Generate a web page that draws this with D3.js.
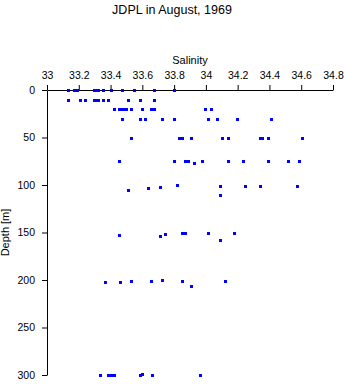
<!DOCTYPE html>
<html>
<head>
<meta charset="utf-8">
<script src="https://cdn.jsdelivr.net/npm/d3@7"></script>
<style>
  body { margin: 0; background: #fff; }
  svg text { font-family: "Liberation Sans", Arial, sans-serif; fill: #000; }
</style>
</head>
<body>
<div id="chart"></div>
<script>
const salinity = [
  33.134, 33.168, 33.180, 33.191, 33.297, 33.310, 33.321, 33.350, 33.403, 33.474, 33.549, 33.675, 33.800,
  33.134, 33.206, 33.241, 33.297, 33.308, 33.319, 33.350, 33.386, 33.511, 33.583, 33.675,
  33.423, 33.455, 33.467, 33.480, 33.495, 33.530, 33.599, 33.654, 33.675, 33.996, 34.033,
  33.474, 33.583, 33.618, 33.725, 33.800, 34.014, 34.069, 34.197, 34.411,
  33.530, 33.832, 33.849, 33.908, 34.103, 34.140, 34.340, 34.354, 34.392, 34.606,
  33.455, 33.800, 33.871, 33.890, 33.926, 33.977, 34.140, 34.235, 34.392, 34.518, 34.587,
  33.511, 33.637, 33.709, 33.816, 34.088, 34.247, 34.340, 34.572, 34.088,
  33.455, 33.709, 33.744, 33.851, 33.870, 34.014, 34.088, 34.178,
  33.367, 33.457, 33.530, 33.656, 33.725, 33.851, 33.908, 34.121,
  33.331, 33.384, 33.403, 33.421, 33.585, 33.596, 33.658, 33.960
];
const depth = [
  0, 0, 0, 0, 0, 0, 0, 0, 0, 0, 0, 0, 0,
  10, 10, 10, 10, 10, 10, 10, 10, 10, 10, 10,
  20, 20, 20, 20, 20, 20, 20, 20, 20, 20, 20,
  30, 30, 30, 30, 30, 30, 30, 30, 30,
  50, 50, 50, 50, 50, 50, 50, 50, 50, 50,
  75, 75, 75, 75, 77, 75, 75, 75, 75, 75, 75,
  105, 103, 102, 100, 101, 101, 101, 101, 111,
  153, 154, 152, 151, 150, 151, 158, 151,
  202, 202, 201, 201, 200, 201, 206, 201,
  300, 300, 300, 300, 300, 299, 300, 300
];

const salTicks = [33, 33.2, 33.4, 33.6, 33.8, 34, 34.2, 34.4, 34.6, 34.8];
const depthTicks = [0, 50, 100, 150, 200, 250, 300];

const W = 346, H = 384;
const margin = { top: 90, right: 13, bottom: 9, left: 47 };

const svg = d3.select("#chart")
  .append("svg")
    .attr("width", W)
    .attr("height", H);

const x = d3.scaleLinear().domain([33, 34.8]).range([margin.left, W - margin.right]);
const y = d3.scaleLinear().domain([0, 300]).range([margin.top, H - margin.bottom]);

// Title
svg.append("text")
  .attr("x", 172)
  .attr("y", 14)
  .attr("text-anchor", "middle")
  .style("font-size", "12.5px")
  .text("JDPL in August, 1969");

// Top axis (salinity)
svg.append("g")
  .attr("transform", `translate(0,${margin.top})`)
  .call(d3.axisTop(x)
    .tickValues(salTicks)
    .tickFormat(d3.format("~g"))
    .tickSize(5)
    .tickSizeOuter(0)
    .tickPadding(6));

// Left axis (depth)
svg.append("g")
  .attr("transform", `translate(${margin.left},0)`)
  .call(d3.axisLeft(y)
    .tickValues(depthTicks)
    .tickSize(5)
    .tickSizeOuter(0)
    .tickPadding(7));

svg.selectAll(".tick text")
  .style("font-family", "'Liberation Sans', Arial, sans-serif")
  .style("font-size", "10.5px")
  .attr("fill", "#000");
svg.selectAll(".domain, .tick line").attr("stroke", "#000");

// Axis labels
svg.append("text")
  .attr("x", (x.range()[0] + x.range()[1]) / 2)
  .attr("y", 64)
  .attr("text-anchor", "middle")
  .style("font-size", "11px")
  .text("Salinity");

svg.append("text")
  .attr("transform", `translate(9,${(y.range()[0] + y.range()[1]) / 2}) rotate(-90)`)
  .attr("text-anchor", "middle")
  .style("font-size", "11px")
  .text("Depth [m]");

// Points
const pts = salinity.map((s, i) => ({ s: s, d: depth[i] }));
svg.append("g")
  .selectAll("rect")
  .data(pts)
  .join("rect")
    .attr("x", d => Math.round(x(d.s)) - 1)
    .attr("y", d => Math.round(y(d.d)) - 1)
    .attr("width", 3)
    .attr("height", 3)
    .attr("fill", "#0000ff");
</script>
</body>
</html>
